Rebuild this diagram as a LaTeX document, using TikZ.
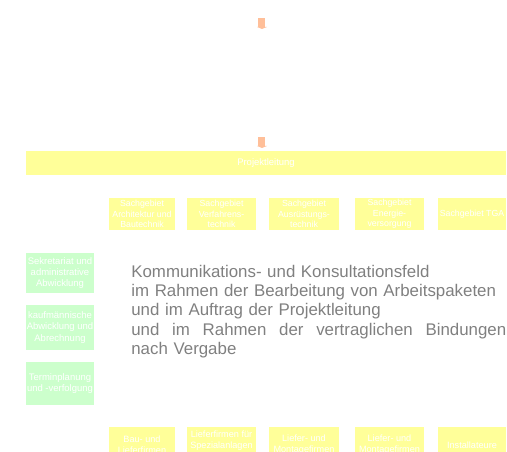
\documentclass[tikz,border=0pt]{standalone}
\usepackage{fontspec}
\setmainfont{Liberation Sans}
\usetikzlibrary{positioning}
\definecolor{feldgelb}{HTML}{FFFF99}
\definecolor{feldgruen}{HTML}{CCFFCC}
\definecolor{pfeilrot}{HTML}{FFBF99}
\definecolor{textgrau}{HTML}{808080}

\begin{document}
\begin{tikzpicture}[x=0.02cm,y=-0.02cm,
  gebiet/.style={fill=feldgelb,text=white,align=center,inner sep=0pt,
    font=\fontsize{5}{6}\selectfont},
  firma/.style={fill=feldgelb,text=white,align=center,inner sep=0pt,
    font=\fontsize{5.2}{6.2}\selectfont},
  stab/.style={fill=feldgruen,text=white,align=center,inner sep=0pt,
    minimum width=1.36cm,font=\fontsize{5.4}{6.4}\selectfont}]
\useasboundingbox (0,0) rectangle (507,452);
\clip (0,0) rectangle (507,452);
% kurzer Pfeil nach unten, #1 = obere Kante
\newcommand{\pfeilstummel}[1]{
  \fill[pfeilrot] (258,#1) rectangle (265,#1+9);
  \fill[pfeilrot] (257,#1+9) -- (267,#1+9) -- (262,#1+11) -- cycle;
}
\pfeilstummel{18}
\pfeilstummel{137}
% ---------- Projektleitung ----------
\node[fill=feldgelb,text=white,inner sep=0pt,minimum width=9.6cm,minimum height=0.48cm,
  font=\fontsize{5.4}{6.4}\selectfont] (pl) at (266,163) {Projektleitung};
% ---------- Sachgebiete ----------
\foreach \x/\w/\n/\t in {142/66/sa/{Sachgebiet\\Architektur und\\Bautechnik},
  221.5/69/sv/{Sachgebiet\\Verfahrens-\\technik},
  304/70/sr/{Sachgebiet\\Ausrüstungs-\\technik},
  389.5/69/se/{Sachgebiet\\Energie-\\versorgung},
  472/68/st/{Sachgebiet TGA}}{
  \node[gebiet,minimum width=\w*0.02cm,minimum height=0.64cm] (\n) at (\x,214) {\t};
}
% ---------- Firmen ----------
\foreach \x/\w/\n/\t in {142/66/fa/{Bau- und\\Lieferfirmen},
  221.5/69/fv/{Lieferfirmen für\\Spezialanlagen\\\mbox{}},
  304/70/fr/{Liefer- und\\Montagefirmen},
  389.5/69/fe/{Liefer- und\\Montagefirmen},
  472/68/ft/{Installateure}}{
  \node[firma,minimum width=\w*0.02cm,minimum height=0.72cm] (\n) at (\x,445) {\t};
}
% ---------- Stabsstellen ----------
\node[stab,minimum height=0.80cm] (sek) at (60,273) {Sekretariat und\\administrative\\Abwicklung};
\node[stab,minimum height=0.90cm] (kfm) at (60,327.5) {kaufmännische\\Abwicklung und\\Abrechnung};
\node[stab,minimum height=0.86cm] (ter) at (60,383.5) {Terminplanung\\und -verfolgung};
% ---------- Kommunikationsfeld ----------
\node[anchor=north west,inner sep=0pt,text width=7.5cm,align=left,text=textgrau,
  font=\fontsize{9.6}{10.9}\selectfont] (feld) at (131,265)
  {Kommunikations- und Konsultationsfeld\\
   im Rahmen der Bearbeitung von Arbeitspaketen\\
   und im Auftrag der Projektleitung\\
   \makebox[7.5cm][l]{und\hfill im\hfill Rahmen\hfill der\hfill vertraglichen\hfill Bindungen}\\
   nach Vergabe};
\end{tikzpicture}
\end{document}
